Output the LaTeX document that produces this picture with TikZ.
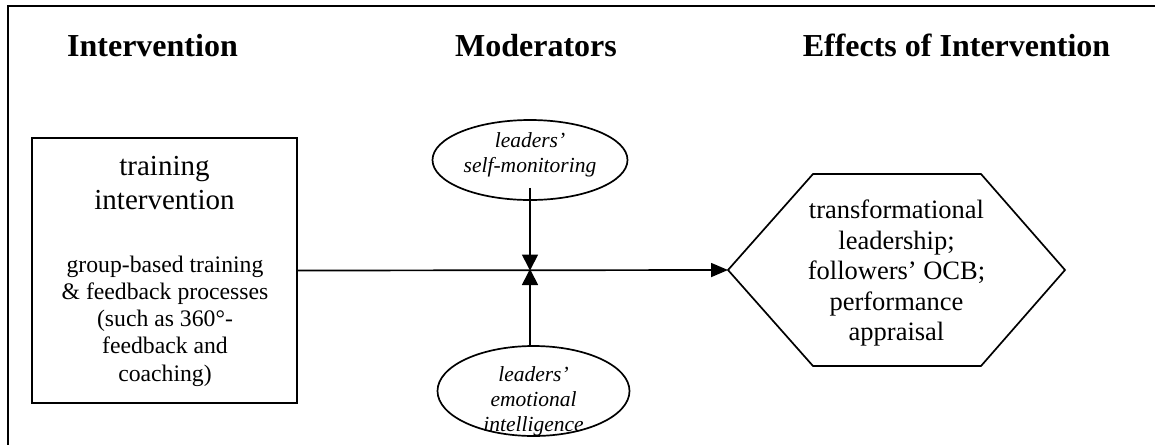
\documentclass[tikz,border=0pt]{standalone}
\usepackage{fontspec}
\setmainfont{Liberation Serif}
\usetikzlibrary{arrows.meta,shapes.geometric}

\tikzset{
  frame/.style={line width=1.8pt},
  edge/.style={line width=1.7pt},
  heading/.style={anchor=base,font=\fontsize{32}{36}\selectfont\bfseries},
  bigtext/.style={align=center,font=\fontsize{29}{34}\selectfont},
  smalltext/.style={align=center,font=\fontsize{23.7}{27.3}\selectfont},
  hextext/.style={align=center,font=\fontsize{26.5}{30.5}\selectfont},
  modtext/.style={align=center,font=\fontsize{21.5}{25}\selectfont\itshape},
  modshape/.style={draw,edge,ellipse,inner sep=0pt},
  flow/.style={edge,-{Triangle[length=17pt,width=14pt]}},
  modflow/.style={edge,-{Triangle[length=16pt,width=16pt]}},
}

\begin{document}
\begin{tikzpicture}[x=1pt,y=-1pt]
  \useasboundingbox (0,0) rectangle (1155,445);

  % open frame: top and left sides only
  \draw[frame] (1155,6) -- (8,6) -- (8,445);

  % column headings
  \node[heading] (h1) at (152.5,56) {Intervention};
  \node[heading] (h2) at (536,56) {Moderators};
  \node[heading] (h3) at (956.5,56) {Effects of Intervention};

  % intervention box
  \node[draw,edge,rectangle,minimum width=265pt,minimum height=265pt,inner sep=0pt]
    (train) at (164.5,270.5) {};
  \node[bigtext] (traintitle) at (164.5,183) {training\\intervention};
  \node[smalltext] (traindesc) at (165,321) {group-based training\\\& feedback processes\\(such as 360°-\\feedback and\\coaching)};

  % moderators
  \node[modshape,minimum width=195pt,minimum height=80pt] (selfmon) at (530,160) {};
  \node[modtext] (selfmontext) at (530,155) {leaders’\\self-monitoring};
  \node[modshape,minimum width=192pt,minimum height=90pt] (emoint) at (533.5,391) {};
  \node[modtext] (emointtext) at (533.5,401) {leaders’\\emotional\\intelligence};

  % effects hexagon
  \coordinate (hl) at (728,270);
  \coordinate (htl) at (813,174);
  \coordinate (htr) at (981,174);
  \coordinate (hr) at (1065,270);
  \coordinate (hbr) at (981,366);
  \coordinate (hbl) at (813,366);
  \draw[edge,line join=miter] (hl) -- (htl) -- (htr) -- (hr) -- (hbr) -- (hbl) -- cycle;
  \node[hextext] (effects) at (896.5,273) {transformational\\leadership;\\followers’ OCB;\\performance\\appraisal};

  % connectors
  \coordinate (join) at (530,270.5);
  \draw[flow] (train.east |- join) -- (hl);
  \draw[modflow] ([yshift=13pt]selfmon.south) -- (join);
  \draw[modflow] (emoint.north -| join) -- ([yshift=1.5pt]join);
\end{tikzpicture}
\end{document}
